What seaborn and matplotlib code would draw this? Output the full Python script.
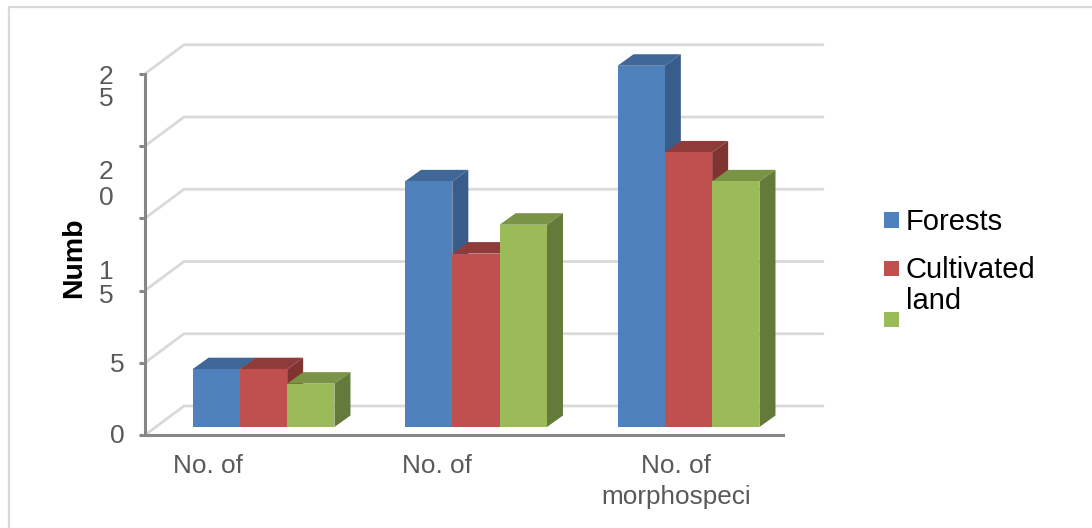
import matplotlib
matplotlib.use("Agg")
import matplotlib.pyplot as plt
from matplotlib.lines import Line2D
from matplotlib.patches import Polygon, Rectangle
import pandas as pd
import seaborn as sns

categories = ["Life forms", "Families", "Morphospecies"]
habitats = ["Forests", "Cultivated land", "Fallow"]
forests = [4, 17, 25]
cultivated = [4, 12, 19]
fallow = [3, 14, 17]

front_colors = ["#4F81BD", "#C0504D", "#9BBB59"]
top_colors = ["#3F6797", "#8F3B39", "#7A9446"]
side_colors = ["#385D8A", "#7F3432", "#647A3A"]

W, H = 1092, 528
sns.set_theme(style="white")
plt.rcParams["font.family"] = ["Liberation Sans", "DejaVu Sans"]

fig = plt.figure(figsize=(W / 100, H / 100), dpi=100)


def fx(px):
    return px / W


def fy(py):
    return 1 - py / H


ax = fig.add_axes([fx(145), fy(435), (783 - 145) / W, (435 - 44) / H])
ax.patch.set_alpha(0)

df = pd.DataFrame({
    "category": categories * 3,
    "habitat": [h for h in habitats for _ in categories],
    "count": forests + cultivated + fallow,
})
sns.barplot(data=df, x="category", y="count", hue="habitat", hue_order=habitats,
            palette=front_colors, saturation=1, width=0.668, gap=0, dodge=True,
            linewidth=0, edgecolor="none", legend=False, ax=ax)

# Data scale: 212.5 px per category, 14.45 px per count
px_x = 212.5
px_y = 14.45
center_px = 263.5
axis_y0 = -8 / px_y
ax.set_xlim((145 - center_px) / px_x, (783 - center_px) / px_x)
ax.set_ylim(axis_y0, (427 - 44) / px_y)
ax.set_xlabel("")
ax.set_ylabel("")
ax.set_xticks([])
ax.set_yticks([])

# Bars sit halfway into the floor depth; walls sit at full depth
bar_dx, bar_dy = 16 / px_x, 11.5 / px_y
wall_dx, wall_dy = 39 / px_x, 29 / px_y
axis_left = (145 - center_px) / px_x
wall_right = (823 - center_px) / px_x

# Back wall gridlines with their diagonal run on the left wall
tick_steps = [0, 5, 10, 15, 20, 25]
grid_color = "#D9D9D9"
for step in tick_steps:
    y = axis_y0 + step
    ax.plot([axis_left, axis_left + wall_dx, wall_right],
            [y, y + wall_dy, y + wall_dy],
            color=grid_color, lw=2, clip_on=False, zorder=1,
            solid_joinstyle="miter")

# Extrude each bar with a top and right face, left to right and front to back
for h_idx, container in enumerate(ax.containers):
    for c_idx, bar in enumerate(container):
        x, w, v = bar.get_x(), bar.get_width(), bar.get_height()
        z = 3 + c_idx * 10 + h_idx * 3
        top = [(x, v), (x + w, v), (x + w + bar_dx, v + bar_dy), (x + bar_dx, v + bar_dy)]
        side = [(x + w, 0), (x + w + bar_dx, bar_dy), (x + w + bar_dx, v + bar_dy), (x + w, v)]
        ax.add_patch(Polygon(top, closed=True, fc=top_colors[h_idx], ec="none", zorder=z, clip_on=False))
        ax.add_patch(Polygon(side, closed=True, fc=side_colors[h_idx], ec="none", zorder=z + 1, clip_on=False))
        bar.set_zorder(z + 2)
        bar.set_clip_on(False)

# Front axis lines and tick marks
axis_color = "#868686"
for side_name in ["top", "right"]:
    ax.spines[side_name].set_visible(False)
ax.spines["left"].set_color(axis_color)
ax.spines["left"].set_linewidth(2.2)
ax.spines["left"].set_bounds(axis_y0, axis_y0 + 25)
ax.spines["bottom"].set_color(axis_color)
ax.spines["bottom"].set_linewidth(2.2)
ax.set_yticks([axis_y0 + s for s in tick_steps], labels=[""] * len(tick_steps))
ax.tick_params(axis="y", left=True, length=4.5, width=2.2, color=axis_color, pad=0)

# Value labels, wrapped to a single digit per line
text_grey = "#595959"
value_labels = [("0", 117, 436, 1.0), ("5", 117, 365, 1.0), ("1\n5", 106, 284, 1.04),
                ("2\n0", 106, 185, 1.07), ("2\n5", 106, 88, 0.88)]
for label, px, py, spacing in value_labels:
    fig.text(fx(px), fy(py), label, ha="center", va="center", fontsize=19,
             color=text_grey, linespacing=spacing)

fig.text(fx(74), fy(258), "Numb", rotation=90, ha="center", va="center",
         fontsize=20.5, fontweight="bold", color="black")

# Category labels, cut off by the label box under the axis
cat_labels = [("No. of", 208, 466), ("No. of", 437, 466), ("No. of", 676, 466), ("morphospeci", 676, 497)]
for label, px, py in cat_labels:
    fig.text(fx(px), fy(py), label, ha="center", va="center", fontsize=18.8, color=text_grey)

# Legend
legend_rows = [(220, front_colors[0]), (268, front_colors[1]), (319, front_colors[2])]
for py, color in legend_rows:
    fig.patches.append(Rectangle((fx(884), fy(py + 7.5)), 15 / W, 15 / H, fc=color, ec="none",
                                 transform=fig.transFigure))
legend_text = [("Forests", 222), ("Cultivated", 270), ("land", 301)]
for label, py in legend_text:
    fig.text(fx(905.5), fy(py), label, ha="left", va="center", fontsize=21, color="black")

# Outer chart frame: only the top and left edges fall inside the canvas
frame = {"color": "#D9D9D9", "lw": 1.6, "transform": fig.transFigure}
fig.lines.append(Line2D([fx(9), fx(9), 1], [0, fy(7), fy(7)], **frame))

fig.savefig("out.png", dpi=100, facecolor="white")
